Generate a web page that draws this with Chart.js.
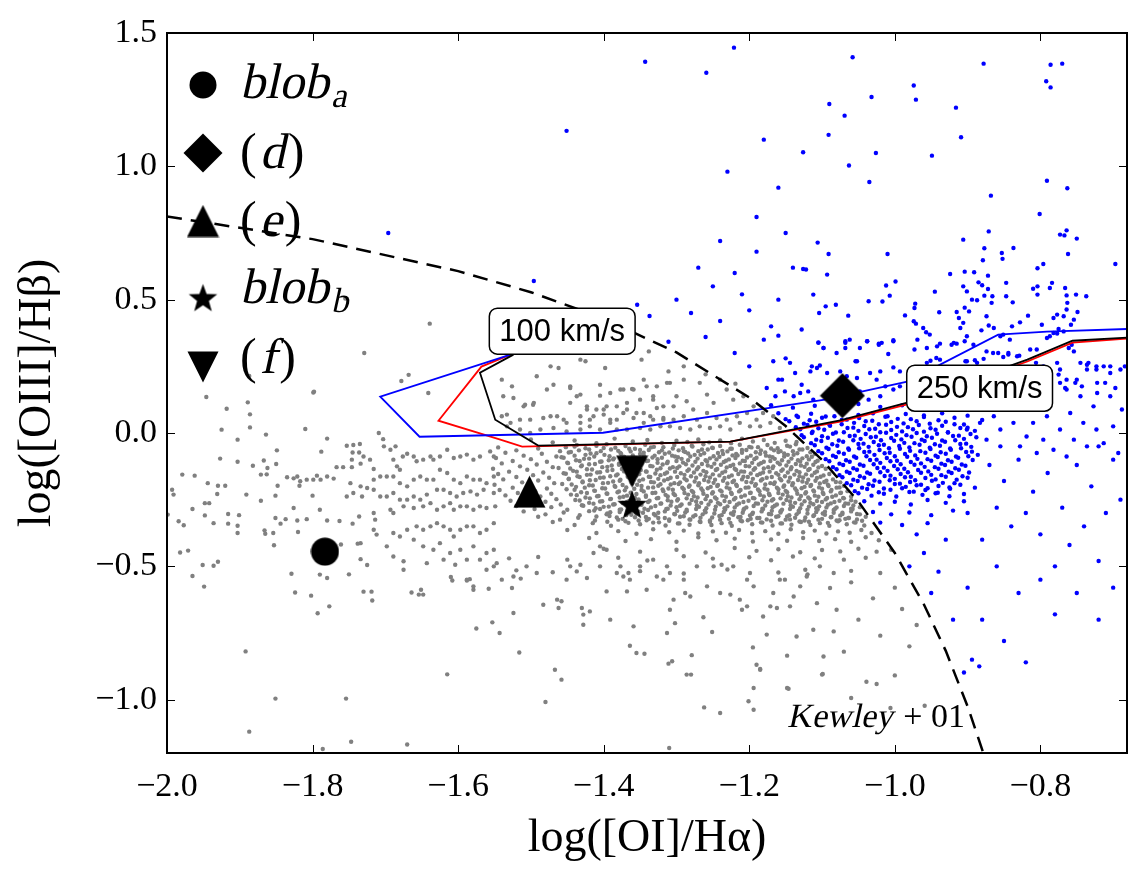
<!DOCTYPE html>
<html>
<head>
<meta charset="utf-8">
<script src="https://cdn.jsdelivr.net/npm/chart.js@4.4.0/dist/chart.umd.min.js"></script>
<style>
  html, body { margin: 0; padding: 0; background: #fff; }
</style>
</head>
<body>
<canvas id="bpt" width="1143" height="879"></canvas>
<script>
// ---- axis ticks ----
const xTicks = [-2.0, -1.8, -1.6, -1.4, -1.2, -1.0, -0.8];
const yTicks = [-1.0, -0.5, 0.0, 0.5, 1.0, 1.5];

// ---- Kewley+01 maximum starburst line ----
const kewleyX = [-2.0, -1.8, -1.6, -1.5, -1.4, -1.3, -1.2, -1.15, -1.1, -1.05, -1.0, -0.96, -0.93, -0.9, -0.88, -0.878];
const kewleyY = [0.812, 0.727, 0.607, 0.528, 0.429, 0.302, 0.133, 0.026, -0.101, -0.257, -0.450, -0.643, -0.817, -1.025, -1.187, -1.205];

// ---- shock model tracks ----
const blueTrackX = [-1.528, -1.707, -1.653, -1.401, -1.096, -0.983, -0.858, -0.791, -0.681];
const blueTrackY = [0.294, 0.136, -0.014, 0.001, 0.125, 0.193, 0.369, 0.380, 0.390];
const redTrackX = [-1.528, -1.568, -1.627, -1.542, -1.512, -1.226, -1.075, -0.983, -0.818, -0.756, -0.681];
const redTrackY = [0.294, 0.249, 0.046, -0.025, -0.051, -0.032, 0.043, 0.107, 0.268, 0.339, 0.354];
const blackTrackX = [-1.524, -1.570, -1.549, -1.490, -1.226, -1.075, -0.983, -0.818, -0.756, -0.681];
const blackTrackY = [0.294, 0.226, 0.050, -0.047, -0.032, 0.047, 0.114, 0.275, 0.346, 0.358];

const shockLabels = ['100 km/s', '250 km/s'];
const shockLabelX = [-1.457, -0.8835];
const shockLabelY = [0.382, 0.168];

const kewleyLabel = 'Kewley + 01';
const kewleyLabelX = -1.148;
const kewleyLabelY = -1.101;

// ---- named regions ----
const markerNames = ['blob_a', '(d)', '(e)', 'blob_b', '(f)'];
const markerX = [-1.783, -1.072, -1.502, -1.361, -1.361];
const markerY = [-0.445, 0.140, -0.220, -0.269, -0.145];

// ---- spaxels below the Kewley line (grey) ----
const grayPts = [
  [-1.946,0.135],[-1.798,0.155],[-1.918,0.091],[-1.889,0.115],[-1.886,0.07],[-1.925,0.0125],[-1.886,0.021],[-1.903,-0.025],
  [-1.864,-0.006],[-1.810,0.015],[-1.780,-0.021],[-1.788,-0.07],[-1.849,-0.065],[-1.927,-0.096],[-1.903,-0.108],[-1.882,-0.123],
  [-1.867,-0.103],[-1.862,-0.131],[-1.871,-0.156],[-1.863,-0.155],[-1.850,-0.116],[-1.979,-0.156],[-1.962,-0.16],[-1.993,-0.213],
  [-1.991,-0.231],[-1.944,-0.188],[-1.930,-0.198],[-1.920,-0.198],[-1.931,-0.229],[-1.891,-0.231],[-1.871,-0.254],[-1.851,-0.235],
  [-1.848,-0.198],[-1.835,-0.166],[-1.826,-0.17],[-1.821,-0.163],[-1.817,-0.181],[-1.808,-0.175],[-1.818,-0.198],[-1.799,-0.175],
  [-1.794,-0.16],[-1.789,-0.175],[-1.780,-0.163],[-1.771,-0.171],[-1.826,-0.281],[-1.790,-0.288],[-1.800,-0.235],[-1.965,-0.285],
  [-1.948,-0.263],[-1.942,-0.263],[-1.948,-0.309],[-1.999,-0.306],[-1.984,-0.331],[-1.977,-0.346],[-1.936,-0.338],[-1.916,-0.304],
  [-1.916,-0.34],[-1.901,-0.308],[-1.903,-0.348],[-1.903,-0.375],[-1.866,-0.365],[-1.865,-0.378],[-1.854,-0.375],[-1.851,-0.319],
  [-1.844,-0.34],[-1.837,-0.323],[-1.821,-0.328],[-1.820,-0.371],[-1.808,-0.323],[-1.780,-0.328],[-1.763,-0.33],[-1.745,-0.34],
  [-1.736,-0.313],[-1.738,-0.415],[-1.761,-0.418],[-1.982,-0.448],[-1.971,-0.441],[-1.951,-0.495],[-1.936,-0.498],[-1.930,-0.483],
  [-1.965,-0.536],[-1.949,-0.576],[-1.853,-0.421],[-1.829,-0.528],[-1.824,-0.598],[-1.802,-0.61],[-1.790,-0.531],[-1.780,-0.544],
  [-1.777,-0.65],[-1.793,-0.676],[-1.750,-0.53],[-1.734,-0.473],[-1.725,-0.495],[-1.730,-0.595],[-1.719,-0.595],[-1.718,-0.628],
  [-1.664,-0.598],[-1.654,-0.606],[-1.648,-0.606],[-1.651,-0.588],[-1.610,-0.54],[-1.608,-0.553],[-1.588,-0.553],[-1.584,-0.548],
  [-1.579,-0.588],[-1.558,-0.584],[-1.575,-0.733],[-1.553,-0.71],[-1.543,-0.75],[-1.615,-0.905],[-1.892,-0.819],[-1.851,-0.996],
  [-1.754,-0.996],[-1.887,-1.12],[-1.747,-1.158],[-1.670,-1.168],[-1.786,-1.185],
  [-1.767,-0.128],[-1.758,-0.128],[-1.753,-0.048],[-1.744,-0.045],[-1.735,-0.041],[-1.745,-0.073],[-1.736,-0.073],[-1.746,-0.1],
  [-1.746,-0.128],[-1.734,-0.115],[-1.730,-0.088],[-1.721,-0.1],[-1.716,-0.135],[-1.709,0.0],[-1.703,-0.023],[-1.702,-0.05],
  [-1.693,-0.063],[-1.686,-0.05],[-1.689,-0.1],[-1.684,-0.125],[-1.680,-0.138],[-1.676,-0.088],[-1.670,-0.078],[-1.661,-0.088],
  [-1.657,-0.106],[-1.648,-0.1],[-1.638,-0.088],[-1.634,-0.1],[-1.625,-0.088],[-1.615,-0.063],[-1.606,-0.094],[-1.597,-0.088],
  [-1.588,-0.081],[-1.579,-0.1],[-1.570,-0.088],[-1.556,-0.069],[-1.551,-0.088],[-1.748,-0.188],[-1.744,-0.225],[-1.734,-0.2],
  [-1.725,-0.206],[-1.716,-0.175],[-1.707,-0.163],[-1.698,-0.163],[-1.689,-0.163],[-1.680,-0.188],[-1.670,-0.2],[-1.661,-0.175],
  [-1.652,-0.163],[-1.643,-0.175],[-1.634,-0.175],[-1.625,-0.138],[-1.615,-0.15],[-1.606,-0.175],[-1.597,-0.188],[-1.588,-0.163],
  [-1.579,-0.175],[-1.570,-0.175],[-1.561,-0.188],[-1.551,-0.163],[-1.753,-0.238],[-1.732,-0.238],[-1.716,-0.213],[-1.707,-0.238],
  [-1.698,-0.238],[-1.689,-0.225],[-1.680,-0.25],[-1.670,-0.25],[-1.661,-0.238],[-1.652,-0.25],[-1.643,-0.231],[-1.629,-0.213],
  [-1.620,-0.213],[-1.611,-0.225],[-1.602,-0.238],[-1.593,-0.225],[-1.583,-0.219],[-1.574,-0.231],[-1.565,-0.213],[-1.551,-0.225],
  [-1.716,-0.3],[-1.714,-0.325],[-1.693,-0.288],[-1.689,-0.3],[-1.675,-0.275],[-1.661,-0.281],[-1.648,-0.275],[-1.638,-0.263],
  [-1.629,-0.288],[-1.620,-0.275],[-1.611,-0.263],[-1.606,-0.288],[-1.597,-0.275],[-1.588,-0.275],[-1.579,-0.288],[-1.570,-0.275],
  [-1.561,-0.281],[-1.549,-0.275],[-1.716,-0.363],[-1.712,-0.381],[-1.689,-0.375],[-1.680,-0.388],[-1.670,-0.363],[-1.657,-0.35],
  [-1.648,-0.363],[-1.638,-0.35],[-1.629,-0.338],[-1.620,-0.35],[-1.611,-0.363],[-1.606,-0.388],[-1.597,-0.363],[-1.588,-0.35],
  [-1.579,-0.35],[-1.570,-0.375],[-1.561,-0.363],[-1.551,-0.338],[-1.734,-0.413],[-1.698,-0.425],[-1.689,-0.463],[-1.675,-0.481],
  [-1.675,-0.513],[-1.661,-0.4],[-1.648,-0.425],[-1.643,-0.488],[-1.634,-0.438],[-1.625,-0.413],[-1.620,-0.475],[-1.611,-0.45],
  [-1.604,-0.494],[-1.597,-0.438],[-1.588,-0.475],[-1.579,-0.425],[-1.570,-0.475],[-1.561,-0.45],[-1.551,-0.438],[-1.547,-0.488],
  [-1.588,-0.55],[-1.579,-0.575],[-1.561,-0.513],[-1.551,-0.5],
  [-1.755,0.504],[-1.639,0.41],[-1.729,0.30],[-1.668,0.218],[-1.678,0.195],[-1.641,0.15],[-1.799,0.152],[-1.887,0.214],
  [-1.338,0.306],[-1.348,0.275],[-1.432,0.275],[-1.425,0.269],[-1.473,0.25],[-1.462,0.244],[-1.398,0.244],[-1.311,0.231],
  [-1.540,0.2],[-1.526,0.175],[-1.492,0.213],[-1.446,0.169],[-1.437,0.138],[-1.478,0.163],[-1.510,0.1],[-1.496,0.113],
  [-1.405,0.181],[-1.391,0.15],[-1.373,0.163],[-1.359,0.163],[-1.345,0.2],[-1.327,0.175],[-1.309,0.188],[-1.423,0.1],
  [-1.400,0.088],[-1.382,0.1],[-1.368,0.088],[-1.332,0.125],[-1.318,0.1],[-1.538,0.138],[-1.540,0.063],[-1.528,0.038],
  [-1.473,0.063],[-1.455,0.05],[-1.432,0.063],[-1.419,0.05],[-1.391,0.05],[-1.373,0.075],[-1.355,0.075],[-1.336,0.063],
  [-1.318,0.05],[-1.29,0.25],[-1.26,0.22],[-1.24,0.2],
  [-1.469,0.181],[-1.446,0.175],[-1.432,0.144],[-1.405,0.14],[-1.377,0.163],[-1.361,0.165],[-1.341,0.175],[-1.332,0.138],
  [-1.313,0.188],[-1.300,0.138],[-1.290,0.2],[-1.286,0.119],[-1.268,0.188],[-1.258,0.144],[-1.231,0.163],[-1.219,0.185],
  [-1.524,0.131],[-1.508,0.106],[-1.497,0.106],[-1.446,0.113],[-1.423,0.088],[-1.410,0.088],[-1.396,0.1],[-1.368,0.113],
  [-1.350,0.125],[-1.345,0.075],[-1.327,0.094],[-1.304,0.1],[-1.277,0.088],[-1.249,0.113],[-1.222,0.125],[-1.208,0.138],
  [-1.194,0.1],[-1.533,0.069],[-1.515,0.05],[-1.501,0.05],[-1.483,0.056],[-1.464,0.063],[-1.451,0.038],[-1.432,0.038],
  [-1.414,0.063],[-1.400,0.069],[-1.391,0.038],[-1.382,0.05],[-1.359,0.056],[-1.345,0.038],[-1.332,0.05],[-1.318,0.056],
  [-1.304,0.05],[-1.290,0.063],[-1.272,0.05],[-1.258,0.075],[-1.245,0.056],[-1.231,0.05],[-1.217,0.063],[-1.203,0.075],
  [-1.190,0.05],[-1.181,0.075],[-1.167,0.063],[-1.533,0.025],[-1.515,0.013],[-1.501,0.0],[-1.487,0.013],[-1.469,0.019],
  [-1.451,0.006],[-1.432,0.013],[-1.419,0.025],[-1.405,0.013],[-1.382,0.013],[-1.368,0.013],[-1.350,0.019],[-1.336,0.013],
  [-1.322,0.025],[-1.309,0.025],[-1.295,0.019],[-1.281,0.013],[-1.268,0.025],[-1.254,0.019],[-1.240,0.025],[-1.226,0.013],
  [-1.213,0.038],[-1.199,0.025],[-1.185,0.025],[-1.171,0.038],[-1.158,0.019],
  // dense core
  [-1.50,-0.024],[-1.47,-0.035],[-1.44,-0.028],[-1.41,-0.038],[-1.385,-0.021],[-1.36,-0.032],[-1.34,-0.026],[-1.32,-0.037],
  [-1.30,-0.029],[-1.285,-0.034],[-1.27,-0.024],[-1.255,-0.035],[-1.24,-0.028],[-1.225,-0.038],[-1.21,-0.021],[-1.195,-0.032],
  [-1.18,-0.026],[-1.165,-0.037],[-1.15,-0.029],[-1.135,-0.034],
  [-1.545,-0.054],[-1.52,-0.065],[-1.49,-0.058],[-1.46,-0.068],[-1.44,-0.051],[-1.42,-0.062],[-1.40,-0.056],[-1.38,-0.067],
  [-1.365,-0.059],[-1.35,-0.064],[-1.335,-0.054],[-1.32,-0.065],[-1.305,-0.058],[-1.29,-0.068],[-1.278,-0.051],[-1.265,-0.062],
  [-1.25,-0.056],[-1.237,-0.067],[-1.224,-0.059],[-1.21,-0.064],[-1.197,-0.054],[-1.184,-0.065],[-1.17,-0.058],[-1.157,-0.068],
  [-1.144,-0.051],[-1.131,-0.062],[-1.12,-0.056],
  [-1.535,-0.074],[-1.51,-0.085],[-1.485,-0.078],[-1.465,-0.088],[-1.445,-0.071],[-1.425,-0.082],[-1.41,-0.076],[-1.392,-0.087],
  [-1.376,-0.079],[-1.36,-0.084],[-1.345,-0.074],[-1.33,-0.085],[-1.316,-0.078],[-1.302,-0.088],[-1.288,-0.071],[-1.275,-0.082],
  [-1.262,-0.076],[-1.249,-0.087],[-1.236,-0.079],[-1.223,-0.084],[-1.21,-0.074],[-1.198,-0.085],[-1.185,-0.078],[-1.172,-0.088],
  [-1.16,-0.071],[-1.147,-0.082],[-1.134,-0.076],[-1.121,-0.087],[-1.11,-0.079],
  [-1.548,-0.094],[-1.525,-0.105],[-1.50,-0.098],[-1.478,-0.108],[-1.458,-0.091],[-1.438,-0.102],[-1.42,-0.096],[-1.403,-0.107],
  [-1.387,-0.099],[-1.371,-0.104],[-1.356,-0.094],[-1.341,-0.105],[-1.326,-0.098],[-1.312,-0.108],[-1.298,-0.091],[-1.284,-0.102],
  [-1.271,-0.096],[-1.258,-0.107],[-1.245,-0.099],[-1.232,-0.104],[-1.219,-0.094],[-1.206,-0.105],[-1.193,-0.098],[-1.18,-0.108],
  [-1.168,-0.091],[-1.155,-0.102],[-1.142,-0.096],[-1.13,-0.107],[-1.118,-0.099],[-1.106,-0.104],
  [-1.54,-0.114],[-1.515,-0.125],[-1.492,-0.118],[-1.47,-0.128],[-1.45,-0.111],[-1.43,-0.122],[-1.412,-0.116],[-1.395,-0.127],
  [-1.379,-0.119],[-1.363,-0.124],[-1.348,-0.114],[-1.333,-0.125],[-1.319,-0.118],[-1.305,-0.128],[-1.291,-0.111],[-1.278,-0.122],
  [-1.265,-0.116],[-1.252,-0.127],[-1.239,-0.119],[-1.226,-0.124],[-1.213,-0.114],[-1.2,-0.125],[-1.187,-0.118],[-1.174,-0.128],
  [-1.161,-0.111],[-1.149,-0.122],[-1.136,-0.116],[-1.124,-0.127],[-1.112,-0.119],[-1.1,-0.124],
  [-1.552,-0.134],[-1.53,-0.145],[-1.505,-0.138],[-1.483,-0.148],[-1.462,-0.131],[-1.442,-0.142],[-1.423,-0.136],[-1.405,-0.147],
  [-1.388,-0.139],[-1.372,-0.144],[-1.356,-0.134],[-1.341,-0.145],[-1.327,-0.138],[-1.313,-0.148],[-1.299,-0.131],[-1.285,-0.142],
  [-1.272,-0.136],[-1.259,-0.147],[-1.246,-0.139],[-1.233,-0.144],[-1.22,-0.134],[-1.207,-0.145],[-1.194,-0.138],[-1.181,-0.148],
  [-1.168,-0.131],[-1.156,-0.142],[-1.143,-0.136],[-1.131,-0.147],[-1.119,-0.139],[-1.107,-0.144],[-1.095,-0.134],
  [-1.545,-0.154],[-1.52,-0.165],[-1.497,-0.158],[-1.475,-0.168],[-1.455,-0.151],[-1.436,-0.162],[-1.418,-0.156],[-1.4,-0.167],
  [-1.383,-0.159],[-1.367,-0.164],[-1.351,-0.154],[-1.336,-0.165],[-1.322,-0.158],[-1.308,-0.168],[-1.294,-0.151],[-1.28,-0.162],
  [-1.267,-0.156],[-1.254,-0.167],[-1.241,-0.159],[-1.228,-0.164],[-1.215,-0.154],[-1.202,-0.165],[-1.189,-0.158],[-1.176,-0.168],
  [-1.163,-0.151],[-1.151,-0.162],[-1.138,-0.156],[-1.126,-0.167],[-1.114,-0.159],[-1.102,-0.164],[-1.09,-0.154],
  [-1.538,-0.174],[-1.512,-0.185],[-1.49,-0.178],[-1.468,-0.188],[-1.448,-0.171],[-1.429,-0.182],[-1.411,-0.176],[-1.394,-0.187],
  [-1.378,-0.179],[-1.362,-0.184],[-1.346,-0.174],[-1.331,-0.185],[-1.317,-0.178],[-1.303,-0.188],[-1.289,-0.171],[-1.275,-0.182],
  [-1.262,-0.176],[-1.249,-0.187],[-1.236,-0.179],[-1.223,-0.184],[-1.21,-0.174],[-1.197,-0.185],[-1.184,-0.178],[-1.171,-0.188],
  [-1.158,-0.171],[-1.146,-0.182],[-1.133,-0.176],[-1.121,-0.187],[-1.109,-0.179],[-1.097,-0.184],[-1.085,-0.174],[-1.075,-0.185],
  [-1.55,-0.194],[-1.525,-0.205],[-1.5,-0.198],[-1.478,-0.208],[-1.457,-0.191],[-1.438,-0.202],[-1.42,-0.196],[-1.402,-0.207],
  [-1.385,-0.199],[-1.369,-0.204],[-1.354,-0.194],[-1.339,-0.205],[-1.325,-0.198],[-1.311,-0.208],[-1.297,-0.191],[-1.283,-0.202],
  [-1.27,-0.196],[-1.257,-0.207],[-1.244,-0.199],[-1.231,-0.204],[-1.218,-0.194],[-1.205,-0.205],[-1.192,-0.198],[-1.179,-0.208],
  [-1.166,-0.191],[-1.153,-0.202],[-1.141,-0.196],[-1.128,-0.207],[-1.116,-0.199],[-1.104,-0.204],[-1.092,-0.194],[-1.08,-0.205],
  [-1.07,-0.198],
  [-1.543,-0.214],[-1.518,-0.225],[-1.494,-0.218],[-1.472,-0.228],[-1.451,-0.211],[-1.431,-0.222],[-1.413,-0.216],[-1.396,-0.227],
  [-1.379,-0.219],[-1.363,-0.224],[-1.348,-0.214],[-1.333,-0.225],[-1.318,-0.218],[-1.304,-0.228],[-1.29,-0.211],[-1.277,-0.222],
  [-1.264,-0.216],[-1.251,-0.227],[-1.238,-0.219],[-1.225,-0.224],[-1.212,-0.214],[-1.199,-0.225],[-1.186,-0.218],[-1.173,-0.228],
  [-1.16,-0.211],[-1.148,-0.222],[-1.135,-0.216],[-1.123,-0.227],[-1.111,-0.219],[-1.099,-0.224],[-1.087,-0.214],[-1.075,-0.225],
  [-1.065,-0.218],
  [-1.535,-0.234],[-1.51,-0.245],[-1.487,-0.238],[-1.465,-0.248],[-1.445,-0.231],[-1.425,-0.242],[-1.407,-0.236],[-1.39,-0.247],
  [-1.373,-0.239],[-1.357,-0.244],[-1.342,-0.234],[-1.327,-0.245],[-1.312,-0.238],[-1.298,-0.248],[-1.284,-0.231],[-1.271,-0.242],
  [-1.258,-0.236],[-1.245,-0.247],[-1.232,-0.239],[-1.219,-0.244],[-1.206,-0.234],[-1.193,-0.245],[-1.18,-0.238],[-1.167,-0.248],
  [-1.154,-0.231],[-1.142,-0.242],[-1.129,-0.236],[-1.117,-0.247],[-1.105,-0.239],[-1.093,-0.244],[-1.081,-0.234],[-1.07,-0.245],
  [-1.06,-0.238],
  [-1.528,-0.254],[-1.503,-0.265],[-1.48,-0.258],[-1.459,-0.268],[-1.439,-0.251],[-1.42,-0.262],[-1.402,-0.256],[-1.385,-0.267],
  [-1.368,-0.259],[-1.352,-0.264],[-1.337,-0.254],[-1.322,-0.265],[-1.307,-0.258],[-1.293,-0.268],[-1.279,-0.251],[-1.266,-0.262],
  [-1.253,-0.256],[-1.24,-0.267],[-1.227,-0.259],[-1.214,-0.264],[-1.201,-0.254],[-1.188,-0.265],[-1.175,-0.258],[-1.162,-0.268],
  [-1.149,-0.251],[-1.137,-0.262],[-1.124,-0.256],[-1.112,-0.267],[-1.1,-0.259],[-1.088,-0.264],[-1.076,-0.254],[-1.064,-0.265],
  [-1.054,-0.258],
  [-1.52,-0.274],[-1.495,-0.285],[-1.472,-0.278],[-1.45,-0.288],[-1.43,-0.271],[-1.411,-0.282],[-1.393,-0.276],[-1.376,-0.287],
  [-1.36,-0.279],[-1.344,-0.284],[-1.329,-0.274],[-1.314,-0.285],[-1.3,-0.278],[-1.286,-0.288],[-1.272,-0.271],[-1.259,-0.282],
  [-1.246,-0.276],[-1.233,-0.287],[-1.22,-0.279],[-1.207,-0.284],[-1.194,-0.274],[-1.181,-0.285],[-1.168,-0.278],[-1.155,-0.288],
  [-1.143,-0.271],[-1.13,-0.282],[-1.118,-0.276],[-1.106,-0.287],[-1.094,-0.279],[-1.082,-0.284],[-1.07,-0.274],[-1.058,-0.285],
  [-1.048,-0.278],
  [-1.51,-0.294],[-1.48,-0.305],[-1.455,-0.298],[-1.433,-0.308],[-1.413,-0.291],[-1.395,-0.302],[-1.378,-0.296],[-1.362,-0.307],
  [-1.346,-0.299],[-1.331,-0.304],[-1.316,-0.294],[-1.302,-0.305],[-1.288,-0.298],[-1.274,-0.308],[-1.261,-0.291],[-1.248,-0.302],
  [-1.235,-0.296],[-1.222,-0.307],[-1.209,-0.299],[-1.196,-0.304],[-1.183,-0.294],[-1.17,-0.305],[-1.157,-0.298],[-1.145,-0.308],
  [-1.132,-0.291],[-1.12,-0.302],[-1.108,-0.296],[-1.096,-0.307],[-1.084,-0.299],[-1.072,-0.304],[-1.06,-0.294],[-1.048,-0.305],
  [-1.49,-0.314],[-1.46,-0.325],[-1.435,-0.318],[-1.412,-0.328],[-1.392,-0.311],[-1.374,-0.322],[-1.357,-0.316],[-1.341,-0.327],
  [-1.325,-0.319],[-1.31,-0.324],[-1.295,-0.314],[-1.281,-0.325],[-1.267,-0.318],[-1.254,-0.328],[-1.241,-0.311],[-1.228,-0.322],
  [-1.215,-0.316],[-1.202,-0.327],[-1.189,-0.319],[-1.176,-0.324],[-1.163,-0.314],[-1.15,-0.325],[-1.137,-0.318],[-1.124,-0.328],
  [-1.112,-0.311],[-1.1,-0.322],[-1.088,-0.316],[-1.076,-0.327],[-1.064,-0.319],[-1.052,-0.324],[-1.04,-0.314],
  [-1.47,-0.334],[-1.44,-0.345],[-1.415,-0.338],[-1.39,-0.348],[-1.37,-0.331],[-1.35,-0.342],[-1.332,-0.336],[-1.315,-0.347],
  [-1.298,-0.339],[-1.282,-0.344],[-1.267,-0.334],[-1.252,-0.345],[-1.238,-0.338],[-1.224,-0.348],[-1.21,-0.331],[-1.196,-0.342],
  [-1.182,-0.336],[-1.168,-0.347],[-1.155,-0.339],[-1.142,-0.344],[-1.129,-0.334],[-1.116,-0.345],[-1.103,-0.338],[-1.09,-0.348],
  [-1.078,-0.331],[-1.066,-0.342],[-1.054,-0.336],[-1.042,-0.347],
  [-1.45,-0.364],[-1.41,-0.375],[-1.38,-0.368],[-1.355,-0.378],[-1.332,-0.361],[-1.31,-0.372],[-1.29,-0.366],[-1.27,-0.377],
  [-1.25,-0.369],[-1.232,-0.374],[-1.214,-0.364],[-1.196,-0.375],[-1.178,-0.368],[-1.16,-0.378],[-1.143,-0.361],[-1.126,-0.372],
  [-1.11,-0.366],[-1.094,-0.377],[-1.078,-0.369],[-1.062,-0.374],[-1.046,-0.364],[-1.032,-0.375],
  [-1.42,-0.394],[-1.37,-0.405],[-1.335,-0.398],[-1.3,-0.408],[-1.27,-0.391],[-1.245,-0.402],[-1.22,-0.396],[-1.195,-0.407],
  [-1.17,-0.399],[-1.148,-0.404],[-1.126,-0.394],[-1.104,-0.405],[-1.082,-0.398],[-1.06,-0.408],[-1.04,-0.391],[-1.022,-0.402],
  [-1.40,-0.434],[-1.35,-0.445],[-1.3,-0.438],[-1.26,-0.448],[-1.22,-0.431],[-1.19,-0.442],[-1.16,-0.436],[-1.13,-0.447],
  [-1.1,-0.439],[-1.075,-0.444],[-1.05,-0.434],[-1.025,-0.445],[-1.005,-0.438],
  [-1.53,-0.47],[-1.49,-0.465],[-1.45,-0.475],[-1.38,-0.468],[-1.34,-0.478],[-1.29,-0.462],[-1.25,-0.471],[-1.2,-0.466],
  [-1.17,-0.477],[-1.14,-0.463],[-1.11,-0.47],[-1.07,-0.475],[-1.04,-0.468],
  [-1.52,-0.515],[-1.47,-0.522],[-1.35,-0.518],[-1.29,-0.527],[-1.23,-0.512],[-1.16,-0.523],[-1.12,-0.53],[-1.06,-0.517],[-1.02,-0.525],
  // dense core, in-between rows
  [-1.452,-0.053],[-1.437,-0.045],[-1.425,-0.057],[-1.41,-0.048],[-1.396,-0.042],[-1.384,-0.055],[-1.37,-0.049],[-1.357,-0.059],
  [-1.343,-0.044],[-1.331,-0.052],[-1.318,-0.053],[-1.303,-0.045],[-1.291,-0.057],[-1.279,-0.048],[-1.263,-0.042],[-1.251,-0.055],
  [-1.24,-0.049],[-1.226,-0.059],[-1.213,-0.044],[-1.2,-0.052],[-1.188,-0.053],[-1.175,-0.045],[-1.161,-0.057],[-1.148,-0.048],[-1.136,-0.042],
  [-1.448,-0.073],[-1.434,-0.065],[-1.418,-0.077],[-1.404,-0.068],[-1.39,-0.062],[-1.377,-0.075],[-1.363,-0.069],[-1.35,-0.079],
  [-1.338,-0.064],[-1.324,-0.072],[-1.31,-0.073],[-1.297,-0.065],[-1.284,-0.077],[-1.27,-0.068],[-1.257,-0.062],[-1.243,-0.075],
  [-1.23,-0.069],[-1.218,-0.079],[-1.204,-0.064],[-1.191,-0.072],[-1.178,-0.073],[-1.166,-0.065],[-1.152,-0.077],[-1.14,-0.068],
  [-1.127,-0.062],[-1.116,-0.072],
  [-1.455,-0.093],[-1.44,-0.085],[-1.427,-0.097],[-1.413,-0.088],[-1.399,-0.082],[-1.386,-0.095],[-1.372,-0.089],[-1.359,-0.099],
  [-1.345,-0.084],[-1.333,-0.092],[-1.32,-0.093],[-1.306,-0.085],[-1.293,-0.097],[-1.281,-0.088],[-1.267,-0.082],[-1.254,-0.095],
  [-1.241,-0.089],[-1.228,-0.099],[-1.216,-0.084],[-1.203,-0.092],[-1.19,-0.093],[-1.177,-0.085],[-1.165,-0.097],[-1.152,-0.088],
  [-1.139,-0.082],[-1.127,-0.095],[-1.114,-0.089],
  [-1.449,-0.113],[-1.433,-0.105],[-1.42,-0.117],[-1.405,-0.108],[-1.393,-0.102],[-1.379,-0.115],[-1.365,-0.109],[-1.352,-0.119],
  [-1.339,-0.104],[-1.326,-0.112],[-1.313,-0.113],[-1.3,-0.105],[-1.287,-0.117],[-1.274,-0.108],[-1.26,-0.102],[-1.248,-0.115],
  [-1.235,-0.109],[-1.222,-0.119],[-1.209,-0.104],[-1.196,-0.112],[-1.184,-0.113],[-1.171,-0.105],[-1.158,-0.117],[-1.146,-0.108],
  [-1.133,-0.102],[-1.121,-0.115],[-1.109,-0.109],
  [-1.446,-0.133],[-1.431,-0.125],[-1.416,-0.137],[-1.402,-0.128],[-1.389,-0.122],[-1.375,-0.135],[-1.362,-0.129],[-1.349,-0.139],
  [-1.336,-0.124],[-1.322,-0.132],[-1.309,-0.133],[-1.296,-0.125],[-1.283,-0.137],[-1.27,-0.128],[-1.257,-0.122],[-1.244,-0.135],
  [-1.231,-0.129],[-1.218,-0.139],[-1.205,-0.124],[-1.192,-0.132],[-1.18,-0.133],[-1.167,-0.125],[-1.154,-0.137],[-1.142,-0.128],
  [-1.129,-0.122],[-1.117,-0.135],[-1.105,-0.129],
  [-1.452,-0.153],[-1.437,-0.145],[-1.423,-0.157],[-1.409,-0.148],[-1.395,-0.142],[-1.381,-0.155],[-1.368,-0.149],[-1.355,-0.159],
  [-1.342,-0.144],[-1.329,-0.152],[-1.316,-0.153],[-1.302,-0.145],[-1.289,-0.157],[-1.276,-0.148],[-1.263,-0.142],[-1.25,-0.155],
  [-1.237,-0.149],[-1.224,-0.159],[-1.211,-0.144],[-1.198,-0.152],[-1.185,-0.153],[-1.172,-0.145],[-1.16,-0.157],[-1.147,-0.148],
  [-1.135,-0.142],[-1.122,-0.155],[-1.11,-0.149],[-1.098,-0.159],
  [-1.448,-0.173],[-1.433,-0.165],[-1.419,-0.177],[-1.405,-0.168],[-1.391,-0.162],[-1.377,-0.175],[-1.364,-0.169],[-1.351,-0.179],
  [-1.338,-0.164],[-1.325,-0.172],[-1.312,-0.173],[-1.299,-0.165],[-1.286,-0.177],[-1.273,-0.168],[-1.26,-0.162],[-1.247,-0.175],
  [-1.234,-0.169],[-1.221,-0.179],[-1.208,-0.164],[-1.195,-0.172],[-1.182,-0.173],[-1.169,-0.165],[-1.156,-0.177],[-1.144,-0.168],
  [-1.131,-0.162],[-1.119,-0.175],[-1.107,-0.169],[-1.094,-0.179],
  [-1.444,-0.193],[-1.429,-0.185],[-1.415,-0.197],[-1.401,-0.188],[-1.387,-0.182],[-1.374,-0.195],[-1.361,-0.189],[-1.348,-0.199],
  [-1.335,-0.184],[-1.322,-0.192],[-1.308,-0.193],[-1.295,-0.185],[-1.282,-0.197],[-1.269,-0.188],[-1.256,-0.182],[-1.243,-0.195],
  [-1.23,-0.189],[-1.217,-0.199],[-1.204,-0.184],[-1.191,-0.192],[-1.178,-0.193],[-1.165,-0.185],[-1.152,-0.197],[-1.14,-0.188],
  [-1.127,-0.182],[-1.115,-0.195],[-1.103,-0.189],[-1.091,-0.199],[-1.081,-0.184],
  [-1.44,-0.213],[-1.426,-0.205],[-1.412,-0.217],[-1.398,-0.208],[-1.384,-0.202],[-1.371,-0.215],[-1.358,-0.209],[-1.345,-0.219],
  [-1.332,-0.204],[-1.319,-0.212],[-1.305,-0.213],[-1.292,-0.205],[-1.279,-0.217],[-1.266,-0.208],[-1.253,-0.202],[-1.24,-0.215],
  [-1.227,-0.209],[-1.214,-0.219],[-1.201,-0.204],[-1.188,-0.212],[-1.175,-0.213],[-1.162,-0.205],[-1.15,-0.217],[-1.137,-0.208],
  [-1.124,-0.202],[-1.112,-0.215],[-1.1,-0.209],[-1.088,-0.219],[-1.076,-0.204],
  [-1.437,-0.233],[-1.423,-0.225],[-1.409,-0.237],[-1.395,-0.228],[-1.381,-0.222],[-1.368,-0.235],[-1.355,-0.229],[-1.342,-0.239],
  [-1.329,-0.224],[-1.315,-0.232],[-1.302,-0.233],[-1.289,-0.225],[-1.276,-0.237],[-1.263,-0.228],[-1.25,-0.222],[-1.237,-0.235],
  [-1.224,-0.229],[-1.211,-0.239],[-1.198,-0.224],[-1.185,-0.232],[-1.172,-0.233],[-1.16,-0.225],[-1.147,-0.237],[-1.134,-0.228],
  [-1.122,-0.222],[-1.11,-0.235],[-1.098,-0.229],[-1.086,-0.239],[-1.074,-0.224],
  [-1.433,-0.253],[-1.419,-0.245],[-1.405,-0.257],[-1.391,-0.248],[-1.378,-0.242],[-1.365,-0.255],[-1.352,-0.249],[-1.339,-0.259],
  [-1.325,-0.244],[-1.312,-0.252],[-1.299,-0.253],[-1.286,-0.245],[-1.273,-0.257],[-1.26,-0.248],[-1.247,-0.242],[-1.234,-0.255],
  [-1.221,-0.249],[-1.208,-0.259],[-1.195,-0.244],[-1.182,-0.252],[-1.169,-0.253],[-1.157,-0.245],[-1.144,-0.257],[-1.131,-0.248],
  [-1.119,-0.242],[-1.107,-0.255],[-1.095,-0.249],[-1.083,-0.259],[-1.071,-0.244],[-1.06,-0.252],
  [-1.428,-0.273],[-1.414,-0.265],[-1.4,-0.277],[-1.387,-0.268],[-1.374,-0.262],[-1.361,-0.275],[-1.348,-0.269],[-1.335,-0.279],
  [-1.321,-0.264],[-1.308,-0.272],[-1.295,-0.273],[-1.282,-0.265],[-1.269,-0.277],[-1.256,-0.268],[-1.243,-0.262],[-1.23,-0.275],
  [-1.217,-0.269],[-1.204,-0.279],[-1.191,-0.264],[-1.178,-0.272],[-1.165,-0.273],[-1.153,-0.265],[-1.14,-0.277],[-1.128,-0.268],
  [-1.116,-0.262],[-1.104,-0.275],[-1.092,-0.269],[-1.08,-0.279],[-1.068,-0.264],[-1.057,-0.272],
  [-1.42,-0.293],[-1.405,-0.285],[-1.391,-0.297],[-1.378,-0.288],[-1.365,-0.282],[-1.352,-0.295],[-1.339,-0.289],[-1.325,-0.299],
  [-1.312,-0.284],[-1.299,-0.292],[-1.286,-0.293],[-1.273,-0.285],[-1.26,-0.297],[-1.247,-0.288],[-1.234,-0.282],[-1.221,-0.295],
  [-1.208,-0.289],[-1.195,-0.299],[-1.182,-0.284],[-1.169,-0.292],[-1.157,-0.293],[-1.144,-0.285],[-1.132,-0.297],[-1.12,-0.288],
  [-1.108,-0.282],[-1.096,-0.295],[-1.084,-0.289],[-1.072,-0.299],[-1.06,-0.284],
  [-1.41,-0.313],[-1.396,-0.305],[-1.382,-0.317],[-1.369,-0.308],[-1.355,-0.302],[-1.342,-0.315],[-1.329,-0.309],[-1.316,-0.319],
  [-1.303,-0.304],[-1.29,-0.312],[-1.277,-0.313],[-1.264,-0.305],[-1.251,-0.317],[-1.238,-0.308],[-1.225,-0.302],[-1.212,-0.315],
  [-1.199,-0.309],[-1.186,-0.319],[-1.173,-0.304],[-1.16,-0.312],[-1.148,-0.313],[-1.135,-0.305],[-1.123,-0.317],[-1.111,-0.308],
  [-1.099,-0.302],[-1.087,-0.315],[-1.075,-0.309],[-1.063,-0.319],[-1.052,-0.304],
  [-1.395,-0.333],[-1.38,-0.325],[-1.366,-0.337],[-1.352,-0.328],[-1.338,-0.322],[-1.324,-0.335],[-1.31,-0.329],[-1.296,-0.339],
  [-1.282,-0.324],[-1.268,-0.332],[-1.254,-0.333],[-1.24,-0.325],[-1.226,-0.337],[-1.212,-0.328],[-1.198,-0.322],[-1.184,-0.335],
  [-1.17,-0.329],[-1.157,-0.339],[-1.144,-0.324],[-1.131,-0.332],[-1.118,-0.333],[-1.105,-0.325],[-1.092,-0.337],[-1.08,-0.328],
  [-1.068,-0.322],[-1.056,-0.335],[-1.045,-0.329],
  // lower tail
  [-1.540,-0.55],[-1.524,-0.538],[-1.514,-0.546],[-1.526,-0.581],[-1.524,-0.675],[-1.516,-0.823],[-1.506,-0.5],[-1.492,-0.525],
  [-1.483,-0.644],[-1.464,-0.625],[-1.458,-0.631],[-1.462,-0.656],[-1.451,-0.55],[-1.446,-0.5],[-1.437,-0.519],[-1.432,-0.494],
  [-1.430,-0.656],[-1.428,-0.681],[-1.428,-0.719],[-1.419,-0.669],[-1.423,-0.544],[-1.414,-0.45],[-1.405,-0.425],[-1.405,-0.5],
  [-1.396,-0.438],[-1.396,-0.594],[-1.391,-0.7],[-1.382,-0.525],[-1.377,-0.5],[-1.373,-0.538],[-1.366,-0.525],[-1.364,-0.55],
  [-1.368,-0.594],[-1.359,-0.725],[-1.364,-0.798],[-1.355,-0.825],[-1.344,-0.828],[-1.350,-0.5],[-1.341,-0.588],[-1.332,-0.475],
  [-1.327,-0.538],[-1.318,-0.55],[-1.313,-0.5],[-1.309,-0.525],[-1.304,-0.625],[-1.309,-0.663],[-1.302,-0.713],[-1.313,-0.75],
  [-1.311,-0.865],[-1.306,-0.856],[-1.290,-0.55],[-1.288,-0.6],[-1.286,-0.906],[-1.280,-0.906],[-1.281,-0.613],[-1.279,-0.833],
  [-1.272,-0.5],[-1.263,-0.691],[-1.258,-0.575],[-1.251,-0.746],[-1.249,-0.5],[-1.240,-0.6],[-1.238,-0.494],[-1.226,-0.606],
  [-1.222,-0.5],[-1.213,-0.625],[-1.210,-0.663],[-1.203,-0.65],[-1.203,-0.55],[-1.199,-0.525],[-1.194,-0.575],[-1.195,-0.804],
  [-1.194,-0.956],[-1.190,-0.869],[-1.185,-0.888],[-1.181,-0.688],[-1.176,-0.756],[-1.171,-0.65],[-1.167,-0.6],[-1.162,-0.656],
  [-1.158,-0.55],[-1.151,-0.55],[-1.148,-0.835],[-1.148,-0.956],[-1.144,-0.65],[-1.139,-0.613],[-1.135,-0.763],[-1.130,-0.575],
  [-1.123,-0.513],[-1.121,-0.538],[-1.112,-0.738],[-1.107,-0.638],[-1.103,-0.5],[-1.100,-0.906],[-1.098,-0.838],[-1.089,-0.581],
  [-1.084,-0.744],[-1.080,-0.663],[-1.084,-0.525],[-1.262,-1.029],[-1.240,-1.05],[-1.201,-1.006],[-1.194,-1.038],[-1.480,-1.009],
  [-1.467,-0.888],[-1.458,-0.925],[-1.310,-1.181],
  [-1.06,-0.56],[-1.03,-0.62],[-1.0,-0.58],[-0.99,-0.66],[-1.05,-0.7],[-1.02,-0.76],[-0.97,-0.72],[-1.07,-0.82],[-0.98,-0.8],
  [-1.185,-0.885],[-1.146,-0.959],[-1.099,-0.904],[-1.060,-0.994],[-1.039,-0.933],[-1.025,-0.941],[-1.000,-0.909],[-1.006,-1.031],[-0.959,-1.023]
];

// ---- spaxels above the Kewley line (blue) ----
const bluePts = [
  [-1.343,1.392],[-1.221,1.445],[-1.259,1.351],[-1.451,1.133],[-1.696,0.75],[-1.496,0.57],[-1.354,0.481],[-1.337,0.439],[-1.311,0.342],
  [-1.24,0.72],[-1.19,0.81],[-1.16,0.92],[-1.27,0.62],[-1.21,0.52],[-1.15,0.75],[-1.23,0.98],[-1.18,1.1],
  [-1.22,0.3],[-1.2,0.25],[-1.18,0.35],[-1.16,0.2],[-1.15,0.28],[-1.24,0.42],[-1.2,0.46],[-1.17,0.4],[-1.13,0.15],[-1.26,0.36],
  [-1.3,0.5],[-1.28,0.45],[-1.25,0.55],[-1.22,0.6],[-1.19,0.68],[-1.16,0.5],[-1.14,0.62],
  [-1.058,1.409],[-0.878,1.385],[-0.786,1.381],[-0.770,1.385],[-0.792,1.319],[-0.786,1.296],[-0.974,1.303],[-0.971,1.25],
  [-1.032,1.26],[-0.916,1.22],[-1.090,1.234],[-1.069,1.19],[-1.091,1.118],[-0.909,1.109],[-1.026,1.05],[-1.126,1.053],
  [-0.949,1.04],[-1.063,1.003],[-1.035,0.941],[-0.791,0.946],[-0.868,0.89],[-0.763,0.918],[-0.801,0.821],[-0.871,0.756],
  [-0.773,0.744],[-0.767,0.741],[-0.764,0.76],[-0.750,0.729],[-1.106,0.714],[-1.091,0.671],[-1.010,0.671],[-0.906,0.725],
  [-0.877,0.693],[-0.879,0.648],[-0.853,0.675],[-0.852,0.653],[-0.837,0.694],[-0.762,0.671],[-0.796,0.634],[-0.804,0.618],
  [-0.697,0.634],[-1.126,0.615],[-1.122,0.613],[-1.093,0.594],[-1.112,0.519],[-0.924,0.596],[-0.904,0.605],[-0.891,0.603],
  [-0.885,0.565],[-0.880,0.554],[-0.872,0.59],[-0.872,0.54],[-0.906,0.55],[-0.901,0.531],[-0.894,0.5],[-0.887,0.498],
  [-0.877,0.515],[-0.945,0.53],[-1.012,0.553],[-0.999,0.568],[-1.007,0.515],[-1.017,0.493],[-1.036,0.494],[-1.081,0.481],
  [-1.095,0.475],[-1.104,0.45],[-1.064,0.44],[-0.986,0.441],[-0.973,0.469],[-0.972,0.485],[-0.974,0.419],[-0.971,0.41],
  [-0.961,0.394],[-0.957,0.378],[-0.952,0.369],[-0.939,0.453],[-0.915,0.454],[-0.904,0.47],[-0.912,0.431],[-0.910,0.394],
  [-0.906,0.413],[-0.898,0.456],[-0.867,0.488],[-0.866,0.513],[-0.847,0.563],[-0.847,0.513],[-0.838,0.49],[-0.810,0.541],
  [-0.804,0.55],[-0.804,0.519],[-0.787,0.544],[-0.784,0.563],[-0.766,0.544],[-0.764,0.516],[-0.763,0.488],[-0.764,0.463],
  [-0.768,0.438],[-0.751,0.519],[-0.737,0.513],[-0.749,0.454],[-0.754,0.425],[-0.758,0.406],[-0.777,0.444],[-0.782,0.431],
  [-0.775,0.39],[-0.782,0.375],[-0.787,0.363],[-0.798,0.406],[-0.817,0.44],[-0.828,0.415],[-0.839,0.4],[-0.851,0.369],
  [-0.855,0.363],[-0.864,0.394],[-0.871,0.403],[-0.874,0.438],[-0.881,0.385],[-0.919,0.338],[-0.915,0.335],[-0.904,0.344],
  [-0.901,0.363],[-0.938,0.335],[-0.956,0.319],[-0.951,0.271],[-0.969,0.35],[-0.973,0.313],[-1.002,0.348],[-1.009,0.296],
  [-1.018,0.338],[-1.022,0.335],[-1.038,0.344],[-1.048,0.319],[-1.062,0.35],[-1.068,0.338],[-1.068,0.319],[-1.080,0.3],
  [-1.098,0.319],[-1.105,0.34],[-1.054,0.269],[-1.114,0.25],[-1.103,0.253],[-1.128,0.388],[-1.020,0.231],[-1.002,0.246],
  [-0.993,0.175],[-0.943,0.281],[-0.901,0.269],[-0.890,0.273],[-0.878,0.278],[-0.874,0.306],[-0.858,0.3],[-0.851,0.285],
  [-0.844,0.3],[-0.842,0.35],[-0.829,0.29],[-0.814,0.313],[-0.805,0.313],[-0.791,0.356],[-0.777,0.373],[-0.768,0.381],
  [-0.761,0.319],[-0.757,0.331],[-0.754,0.306],[-0.745,0.263],[-0.736,0.256],[-0.736,0.238],[-0.723,0.25],[-0.713,0.25],
  [-0.704,0.25],[-0.684,0.25],[-0.722,0.188],[-0.711,0.188],[-0.697,0.169],[-0.722,0.15],[-0.777,0.263],[-0.773,0.238],
  [-0.775,0.219],[-0.764,0.2],[-0.766,0.169],[-0.752,0.188],[-0.743,0.175],[-0.796,0.25],[-0.806,0.263],
  [-1.160,0.365],[-1.105,0.338],[-1.098,0.319],[-1.068,0.344],[-1.038,0.344],[-1.022,0.331],[-1.002,0.344],[-0.942,0.325],
  [-0.922,0.331],[-0.892,0.331],[-0.865,0.3],[-0.844,0.294],[-0.832,0.288],[-0.887,0.263],[-0.903,0.269],[-0.956,0.263],
  [-0.938,0.275],[-1.052,0.269],[-1.075,0.231],[-1.107,0.244],[-1.144,0.263],[-1.167,0.269],[-1.137,0.225],[-1.116,0.231],
  [-1.093,0.225],[-1.128,0.181],[-1.155,0.2],[-1.176,0.169],[-1.164,0.138],[-1.151,0.156],[-1.139,0.138],[-1.119,0.156],
  [-1.112,0.125],[-1.066,0.213],[-1.052,0.206],[-1.034,0.225],[-1.025,0.2],[-1.013,0.175],[-1.020,0.138],[-1.002,0.163],
  [-1.048,0.156],[-1.036,0.125],[-0.993,0.231],
  [-0.773,0.188],[-0.764,0.163],[-0.750,0.2],[-0.734,0.263],[-0.723,0.238],[-0.704,0.225],[-0.690,0.238],[-0.745,0.138],
  [-0.727,0.1],[-0.704,0.138],[-0.688,0.088],[-0.759,0.075],[-0.741,0.038],[-0.723,0.013],[-0.700,0.025],[-0.773,0.013],
  [-0.754,-0.025],[-0.736,-0.05],[-0.713,-0.038],[-0.693,-0.075],[-0.791,0.063],[-0.810,0.038],[-0.819,-0.013],[-0.796,-0.025],
  [-0.782,-0.063],[-0.837,0.038],[-0.855,0.013],[-0.864,0.063],[-0.883,0.038],[-0.901,0.013],[-0.874,-0.025],[-0.855,-0.05],
  [-0.828,-0.05],[-0.805,-0.075],[-0.764,-0.088],
  [-0.87,-0.12],[-0.85,-0.18],[-0.83,-0.1],[-0.81,-0.22],[-0.79,-0.15],[-0.77,-0.28],[-0.75,-0.12],[-0.73,-0.2],[-0.71,-0.3],
  [-0.86,-0.28],[-0.84,-0.35],[-0.82,-0.3],[-0.88,-0.4],[-0.8,-0.38],[-0.76,-0.42],[-0.72,-0.48],[-0.9,-0.3],[-0.93,-0.4],
  [-0.96,-0.45],[-0.94,-0.52],[-0.9,-0.58],[-0.86,-0.5],[-0.83,-0.6],[-0.8,-0.55],[-0.78,-0.68],[-0.75,-0.6],[-0.72,-0.7],
  [-0.7,-0.58],[-0.88,-0.7],[-0.85,-0.78],[-0.82,-0.86],[-0.78,-0.5],[-0.74,-0.35],[-0.69,-0.25],[-0.7,-0.1],[-0.72,-0.05],
  [-0.98,-0.5],[-0.95,-0.6],[-0.92,-0.7],[-0.97,-0.38],[-0.905,-0.898],[-0.884,-0.875],[-0.894,-0.85],
  // dense core
  [-1.17,0.104],[-1.14,0.095],[-1.11,0.102],[-1.08,0.092],[-1.05,0.109],[-1.02,0.098],[-0.99,0.104],[-0.96,0.093],
  [-1.16,0.074],[-1.135,0.065],[-1.115,0.072],[-1.095,0.062],[-1.075,0.079],[-1.05,0.068],[-1.03,0.074],[-1.01,0.063],
  [-0.985,0.071],[-0.96,0.066],[-0.935,0.074],[-0.9,0.065],
  [-1.145,0.044],[-1.125,0.035],[-1.108,0.042],[-1.09,0.032],[-1.073,0.049],[-1.056,0.038],[-1.04,0.044],[-1.022,0.033],
  [-1.005,0.041],[-0.988,0.036],[-0.97,0.044],[-0.952,0.035],[-0.93,0.042],[-0.905,0.032],[-0.88,0.049],
  [-1.13,0.014],[-1.113,0.005],[-1.097,0.012],[-1.081,0.002],[-1.065,0.019],[-1.05,0.008],[-1.035,0.014],[-1.02,0.003],
  [-1.005,0.011],[-0.99,0.006],[-0.975,0.014],[-0.96,0.005],[-0.944,0.012],[-0.927,0.002],[-0.91,0.019],[-0.89,0.008],
  [-1.125,-0.016],[-1.108,-0.025],[-1.092,-0.018],[-1.077,-0.028],[-1.062,-0.011],[-1.047,-0.022],[-1.033,-0.016],[-1.019,-0.027],
  [-1.005,-0.019],[-0.991,-0.024],[-0.977,-0.014],[-0.963,-0.025],[-0.949,-0.018],[-0.935,-0.028],[-0.92,-0.011],[-0.905,-0.022],
  [-0.888,-0.016],
  [-1.11,-0.046],[-1.094,-0.055],[-1.079,-0.048],[-1.064,-0.058],[-1.05,-0.041],[-1.036,-0.052],[-1.022,-0.046],[-1.008,-0.057],
  [-0.994,-0.049],[-0.98,-0.054],[-0.966,-0.044],[-0.952,-0.055],[-0.938,-0.048],[-0.924,-0.058],[-0.91,-0.041],[-0.895,-0.052],
  [-1.1,-0.076],[-1.085,-0.085],[-1.07,-0.078],[-1.056,-0.088],[-1.042,-0.071],[-1.028,-0.082],[-1.014,-0.076],[-1.0,-0.087],
  [-0.986,-0.079],[-0.972,-0.084],[-0.958,-0.074],[-0.944,-0.085],[-0.93,-0.078],[-0.916,-0.088],[-0.902,-0.071],[-0.886,-0.082],
  [-1.09,-0.106],[-1.076,-0.115],[-1.062,-0.108],[-1.048,-0.118],[-1.034,-0.101],[-1.02,-0.112],[-1.006,-0.106],[-0.992,-0.117],
  [-0.978,-0.109],[-0.964,-0.114],[-0.95,-0.104],[-0.936,-0.115],[-0.922,-0.108],[-0.908,-0.118],[-0.893,-0.101],
  [-1.08,-0.136],[-1.066,-0.145],[-1.052,-0.138],[-1.038,-0.148],[-1.024,-0.131],[-1.01,-0.142],[-0.996,-0.136],[-0.982,-0.147],
  [-0.968,-0.139],[-0.954,-0.144],[-0.94,-0.134],[-0.926,-0.145],[-0.912,-0.138],[-0.898,-0.148],
  [-1.072,-0.166],[-1.057,-0.175],[-1.042,-0.168],[-1.028,-0.178],[-1.014,-0.161],[-1.0,-0.172],[-0.986,-0.166],[-0.972,-0.177],
  [-0.958,-0.169],[-0.944,-0.174],[-0.93,-0.164],[-0.915,-0.175],[-0.9,-0.168],
  [-1.06,-0.196],[-1.045,-0.205],[-1.03,-0.198],[-1.015,-0.208],[-1.0,-0.191],[-0.985,-0.202],[-0.97,-0.196],[-0.955,-0.207],
  [-0.94,-0.199],[-0.925,-0.204],[-0.91,-0.194],[-0.89,-0.205],
  [-1.05,-0.226],[-1.032,-0.235],[-1.015,-0.228],[-0.998,-0.238],[-0.98,-0.221],[-0.962,-0.232],[-0.944,-0.226],[-0.925,-0.237],
  [-0.905,-0.229],
  [-1.042,-0.256],[-1.02,-0.265],[-1.0,-0.258],[-0.978,-0.268],[-0.955,-0.251],[-0.93,-0.262],[-0.905,-0.256],
  [-1.03,-0.296],[-1.005,-0.305],[-0.98,-0.298],[-0.95,-0.308],[-0.92,-0.291],
  [-1.02,-0.336],[-0.99,-0.345],[-0.955,-0.338],
  // dense core, in-between rows
  [-1.15,0.052],[-1.133,0.06],[-1.117,0.048],[-1.1,0.057],[-1.083,0.063],[-1.066,0.05],[-1.049,0.056],[-1.031,0.046],
  [-1.013,0.061],[-0.996,0.053],[-0.978,0.052],[-0.96,0.06],[-0.94,0.048],[-0.918,0.057],
  [-1.136,0.022],[-1.12,0.03],[-1.105,0.018],[-1.089,0.027],[-1.073,0.033],[-1.057,0.02],[-1.042,0.026],[-1.027,0.016],
  [-1.012,0.031],[-0.997,0.023],[-0.982,0.022],[-0.967,0.03],[-0.951,0.018],[-0.935,0.027],[-0.918,0.033],[-0.9,0.02],
  [-1.128,-0.008],[-1.114,0.0],[-1.1,-0.012],[-1.085,-0.003],[-1.07,0.003],[-1.055,-0.01],[-1.04,-0.004],[-1.026,-0.014],
  [-1.012,0.001],[-0.998,-0.007],[-0.984,-0.008],[-0.97,0.0],[-0.956,-0.012],[-0.942,-0.003],[-0.927,0.003],[-0.912,-0.01],[-0.896,-0.004],
  [-1.115,-0.038],[-1.101,-0.03],[-1.086,-0.042],[-1.071,-0.033],[-1.057,-0.027],[-1.043,-0.04],[-1.029,-0.034],[-1.015,-0.044],
  [-1.001,-0.029],[-0.987,-0.037],[-0.973,-0.038],[-0.959,-0.03],[-0.945,-0.042],[-0.931,-0.033],[-0.917,-0.027],[-0.902,-0.04],
  [-1.105,-0.068],[-1.091,-0.06],[-1.077,-0.072],[-1.063,-0.063],[-1.049,-0.057],[-1.035,-0.07],[-1.021,-0.064],[-1.007,-0.074],
  [-0.993,-0.059],[-0.979,-0.067],[-0.965,-0.068],[-0.951,-0.06],[-0.937,-0.072],[-0.923,-0.063],[-0.909,-0.057],[-0.894,-0.07],
  [-1.095,-0.098],[-1.081,-0.09],[-1.067,-0.102],[-1.053,-0.093],[-1.039,-0.087],[-1.025,-0.1],[-1.011,-0.094],[-0.997,-0.104],
  [-0.983,-0.089],[-0.969,-0.097],[-0.955,-0.098],[-0.941,-0.09],[-0.927,-0.102],[-0.913,-0.093],[-0.899,-0.087],
  [-1.085,-0.128],[-1.071,-0.12],[-1.057,-0.132],[-1.043,-0.123],[-1.029,-0.117],[-1.015,-0.13],[-1.001,-0.124],[-0.987,-0.134],
  [-0.973,-0.119],[-0.959,-0.127],[-0.945,-0.128],[-0.931,-0.12],[-0.917,-0.132],[-0.903,-0.123],
  [-1.076,-0.158],[-1.062,-0.15],[-1.048,-0.162],[-1.034,-0.153],[-1.02,-0.147],[-1.006,-0.16],[-0.992,-0.154],[-0.978,-0.164],
  [-0.964,-0.149],[-0.95,-0.157],[-0.936,-0.158],[-0.922,-0.15],[-0.907,-0.162],
  [-1.066,-0.188],[-1.051,-0.18],[-1.036,-0.192],[-1.021,-0.183],[-1.007,-0.177],[-0.993,-0.19],[-0.979,-0.184],[-0.964,-0.194],
  [-0.949,-0.179],[-0.934,-0.187],[-0.918,-0.188],
  [-1.055,-0.218],[-1.038,-0.21],[-1.022,-0.222],[-1.006,-0.213],[-0.99,-0.207],[-0.974,-0.22],[-0.958,-0.214],[-0.941,-0.224],[-0.924,-0.209]
];

// ---------------- styling / drawing ----------------
const serif = '"Liberation Serif", "DejaVu Serif", serif';
const sans = '"Liberation Sans", Arial, sans-serif';

function makeMarker(shape, size) {
  const c = document.createElement('canvas');
  c.width = size; c.height = size;
  const g = c.getContext('2d');
  const m = size / 2;
  g.fillStyle = '#000';
  g.beginPath();
  if (shape === 'circle') {
    g.arc(m, m, m - 0.5, 0, Math.PI * 2);
  } else if (shape === 'diamond') {
    g.moveTo(m, 0.5); g.lineTo(size - 0.5, m); g.lineTo(m, size - 0.5); g.lineTo(0.5, m);
  } else if (shape === 'up') {
    g.moveTo(m, 0.5); g.lineTo(size - 0.5, size - 0.5); g.lineTo(0.5, size - 0.5);
  } else if (shape === 'down') {
    g.moveTo(0.5, 0.5); g.lineTo(size - 0.5, 0.5); g.lineTo(m, size - 0.5);
  } else if (shape === 'star') {
    for (let i = 0; i < 10; i++) {
      const r = i % 2 ? m * 0.4 : m - 0.5;
      const a = -Math.PI / 2 + i * Math.PI / 5;
      g.lineTo(m + r * Math.cos(a), m + 1 + r * Math.sin(a));
    }
  }
  g.closePath();
  g.fill();
  return c;
}

const markerImgs = [
  makeMarker('circle', 29),
  makeMarker('diamond', 46),
  makeMarker('up', 33),
  makeMarker('star', 32),
  makeMarker('down', 33)
];
const legendImgs = [
  makeMarker('circle', 28),
  makeMarker('diamond', 40),
  makeMarker('up', 33),
  makeMarker('star', 31),
  makeMarker('down', 32)
];

function toXY(xs, ys) { return xs.map((x, i) => ({ x: x, y: ys[i] })); }
function fmtTick(v) { return (v < 0 ? '\u2212' : '') + Math.abs(v).toFixed(1); }

const datasets = [
  { data: grayPts.map(p => ({ x: p[0], y: p[1] })), backgroundColor: '#808080', pointRadius: 2.2, pointBorderWidth: 0, order: 10 },
  { data: bluePts.map(p => ({ x: p[0], y: p[1] })), backgroundColor: '#0000ff', pointRadius: 2.2, pointBorderWidth: 0, order: 9 },
  { data: toXY(blueTrackX, blueTrackY), showLine: true, borderColor: '#0000ff', borderWidth: 1.8, pointRadius: 0, order: 6 },
  { data: toXY(redTrackX, redTrackY), showLine: true, borderColor: '#ff0000', borderWidth: 1.8, pointRadius: 0, order: 6 },
  { data: toXY(blackTrackX, blackTrackY), showLine: true, borderColor: '#000000', borderWidth: 1.8, pointRadius: 0, order: 5 },
  { data: toXY(kewleyX, kewleyY), showLine: true, borderColor: '#000000', borderWidth: 2.5, borderDash: [15, 9], pointRadius: 0, order: 4 }
];
markerNames.forEach((name, i) => {
  datasets.push({ label: name, data: [{ x: markerX[i], y: markerY[i] }], pointStyle: markerImgs[i], pointRadius: 10, order: 1 });
});

// slanted serif text (the italic face is not installed)
function slanted(ctx, text, x, y, size) {
  ctx.save();
  ctx.font = size + 'px ' + serif;
  const w = ctx.measureText(text).width;
  ctx.translate(x, y);
  ctx.transform(1, 0, -0.22, 1, 0, 0);
  ctx.fillText(text, 0, 0);
  ctx.restore();
  return w;
}

function drawRich(ctx, x, y, name, size) {
  ctx.textBaseline = 'alphabetic';
  ctx.textAlign = 'left';
  if (name.startsWith('blob_')) {
    const w = slanted(ctx, 'blob', x, y, size);
    slanted(ctx, name.slice(5), x + w + 2, y + 9, Math.round(size * 0.7));
  } else {
    const letter = name.slice(1, -1);
    ctx.font = size + 'px ' + serif;
    ctx.fillText('(', x, y);
    let cx = x + ctx.measureText('(').width + 3;
    cx += slanted(ctx, letter, cx, y, size) + 3;
    ctx.font = size + 'px ' + serif;
    ctx.fillText(')', cx, y);
  }
}

const annotatePlugin = {
  id: 'annotate',
  afterDatasetsDraw(chart) {
    const { ctx, chartArea: a, scales: { x, y } } = chart;
    ctx.save();
    // speed labels in rounded boxes
    ctx.font = '31px ' + sans;
    shockLabels.forEach((t, i) => {
      const cx = x.getPixelForValue(shockLabelX[i]);
      const cy = y.getPixelForValue(shockLabelY[i]);
      const w = ctx.measureText(t).width + 20;
      const h = 46;
      ctx.beginPath();
      ctx.roundRect(cx - w / 2, cy - h / 2, w, h, 8);
      ctx.fillStyle = '#fff';
      ctx.fill();
      ctx.lineWidth = 1.5;
      ctx.strokeStyle = '#000';
      ctx.stroke();
      ctx.fillStyle = '#000';
      ctx.textAlign = 'center';
      ctx.textBaseline = 'middle';
      ctx.fillText(t, cx, cy + 1);
    });
    // Kewley label
    const kx = x.getPixelForValue(kewleyLabelX);
    const ky = y.getPixelForValue(kewleyLabelY);
    ctx.fillStyle = '#000';
    ctx.textAlign = 'left';
    ctx.textBaseline = 'alphabetic';
    const parts = kewleyLabel.split(' + ');
    const kw = slanted(ctx, parts[0], kx, ky, 34);
    ctx.font = '34px ' + serif;
    ctx.fillText(' + ' + parts[1], kx + kw + 2, ky);
    // legend
    const rowMarker = [52, 120, 188, 265, 334];
    const rowText = [65, 135, 203, 270, 340];
    markerNames.forEach((name, i) => {
      const img = legendImgs[i];
      ctx.drawImage(img, a.left + 36 - img.width / 2, a.top + rowMarker[i] - img.height / 2);
      drawRich(ctx, a.left + 73, a.top + rowText[i], name, 50);
    });
    ctx.restore();
  },
  afterDraw(chart) {
    const { ctx, chartArea: a, scales: { x, y } } = chart;
    ctx.save();
    ctx.strokeStyle = '#000';
    ctx.lineWidth = 1;
    ctx.beginPath();
    xTicks.forEach(v => {
      const px = Math.round(x.getPixelForValue(v)) + 0.5;
      ctx.moveTo(px, a.bottom); ctx.lineTo(px, a.bottom - 8);
      ctx.moveTo(px, a.top); ctx.lineTo(px, a.top + 8);
    });
    yTicks.forEach(v => {
      const py = Math.round(y.getPixelForValue(v)) + 0.5;
      ctx.moveTo(a.left, py); ctx.lineTo(a.left + 8, py);
      ctx.moveTo(a.right, py); ctx.lineTo(a.right - 8, py);
    });
    ctx.stroke();
    ctx.lineWidth = 2;
    ctx.strokeRect(a.left, a.top, a.right - a.left, a.bottom - a.top);
    ctx.restore();
  }
};

new Chart(document.getElementById('bpt'), {
  type: 'scatter',
  data: { datasets: datasets },
  options: {
    responsive: false,
    animation: false,
    devicePixelRatio: 1,
    events: [],
    layout: { padding: { top: 33, right: 16, left: 0, bottom: 0 } },
    plugins: { legend: { display: false }, tooltip: { enabled: false } },
    scales: {
      x: {
        type: 'linear', min: -2.0, max: -0.681,
        afterBuildTicks: s => { s.ticks = xTicks.map(v => ({ value: v })); },
        afterFit: s => { s.height = 126; },
        grid: { display: false, drawTicks: false },
        border: { display: false },
        ticks: { color: '#000', font: { family: serif, size: 34 }, padding: 14, maxRotation: 0, autoSkip: false, callback: fmtTick },
        title: { display: true, text: 'log([OI]/H\u03b1)', color: '#000', font: { family: serif, size: 46 }, padding: { top: 0, bottom: 12 } }
      },
      y: {
        type: 'linear', min: -1.2, max: 1.5,
        afterBuildTicks: s => { s.ticks = yTicks.map(v => ({ value: v })); },
        afterFit: s => { s.width = 167; },
        grid: { display: false, drawTicks: false },
        border: { display: false },
        ticks: { color: '#000', font: { family: serif, size: 34 }, padding: 10, autoSkip: false, callback: fmtTick },
        title: { display: true, text: 'log([OIII]/H\u03b2)', color: '#000', font: { family: serif, size: 46 }, padding: { top: 10, bottom: 0 } }
      }
    }
  },
  plugins: [annotatePlugin]
});
</script>
</body>
</html>
